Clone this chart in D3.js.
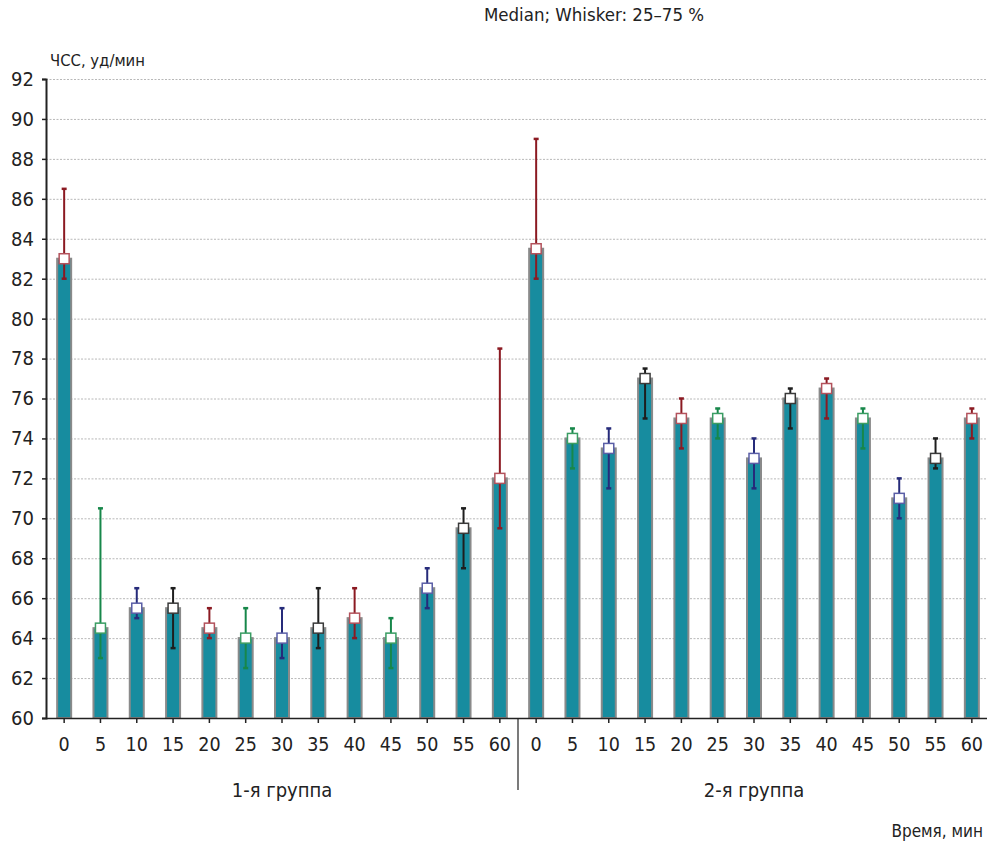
<!DOCTYPE html>
<html>
<head>
<meta charset="utf-8">
<script src="https://cdn.jsdelivr.net/npm/d3@7"></script>
<style>
  html, body { margin: 0; padding: 0; background: #fff; }
  svg { display: block; }
  text { font-family: "DejaVu Sans Condensed", "Liberation Sans Narrow", sans-serif; fill: #222; }
</style>
</head>
<body>
<svg id="chart" width="987" height="841"></svg>
<script>

// --- data ---
const times = [0, 5, 10, 15, 20, 25, 30, 35, 40, 45, 50, 55, 60];
const groups = ["1-я группа", "2-я группа"];

// group 1: median, 25 %, 75 %
const median1 = [83, 64.5, 65.5, 65.5, 64.5, 64, 64, 64.5, 65, 64, 66.5, 69.5, 72];
const low1    = [82, 63, 65, 63.5, 64, 62.5, 63, 63.5, 64, 62.5, 65.5, 67.5, 69.5];
const high1   = [86.5, 70.5, 66.5, 66.5, 65.5, 65.5, 65.5, 66.5, 66.5, 65, 67.5, 70.5, 78.5];

// group 2: median, 25 %, 75 %
const median2 = [83.5, 74, 73.5, 77, 75, 75, 73, 76, 76.5, 75, 71, 73, 75];
const low2    = [82, 72.5, 71.5, 75, 73.5, 74, 71.5, 74.5, 75, 73.5, 70, 72.5, 74];
const high2   = [89, 74.5, 74.5, 77.5, 76, 75.5, 74, 76.5, 77, 75.5, 72, 74, 75.5];

const yTicks = [60, 62, 64, 66, 68, 70, 72, 74, 76, 78, 80, 82, 84, 86, 88, 90, 92];

const title = "Median; Whisker: 25–75 %";
const yTitle = "ЧСС, уд/мин";
const xTitle = "Время, мин";

// colours cycle inside each group
const lineColors = ["#8b1a22", "#17874a", "#262b7a", "#1e1e1e"];
const boxColors  = ["#b3525c", "#3a9d63", "#5a5ea6", "#3a3a3a"];

// --- build rows ---
let rows = [];
[[median1, low1, high1], [median2, low2, high2]].forEach((g, gi) => {
  times.forEach((t, i) => {
    rows.push({
      key: gi + "-" + t, group: gi, idx: i, time: t,
      med: g[0][i], lo: g[1][i], hi: g[2][i]
    });
  });
});

// --- layout ---
const W = 987;
const mLeft = 46, mRight = 990, mTop = 79, mBottom = 718;

let svg = d3.select("#chart");

let x = d3.scaleBand()
  .domain(rows.map(d => d.key))
  .range([mLeft, mRight])
  .paddingInner(0)
  .paddingOuter(0);

let y = d3.scaleLinear()
  .domain([60, 92])
  .range([mBottom, mTop]);

let cx = d => x(d.key) + x.bandwidth() / 2;

// grid lines
svg.append("g")
  .selectAll("line")
  .data(yTicks.filter(v => v > 60))
  .enter()
  .append("line")
  .attr("x1", mLeft)
  .attr("x2", W)
  .attr("y1", d => y(d) + 0.5)
  .attr("y2", d => y(d) + 0.5)
  .attr("stroke", "#b8b8b8")
  .attr("stroke-width", 1)
  .attr("stroke-dasharray", "2,1.5");

// bars
let bw = 14;
svg.append("g")
  .selectAll("rect")
  .data(rows)
  .enter()
  .append("rect")
  .attr("x", d => cx(d) - bw / 2)
  .attr("y", d => y(d.med))
  .attr("width", bw)
  .attr("height", d => y(60) - y(d.med))
  .attr("fill", "#178c9f")
  .attr("stroke", "#8a8a8a")
  .attr("stroke-width", 2);

// whiskers
let wg = svg.append("g");
wg.selectAll("line.wh")
  .data(rows)
  .enter()
  .append("line")
  .attr("class", "wh")
  .attr("x1", cx).attr("x2", cx)
  .attr("y1", d => y(d.lo))
  .attr("y2", d => y(d.hi))
  .attr("stroke", d => lineColors[d.idx % 4])
  .attr("stroke-width", 2);

["lo", "hi"].forEach(k => {
  wg.selectAll("line.cap-" + k)
    .data(rows)
    .enter()
    .append("line")
    .attr("class", "cap-" + k)
    .attr("x1", d => cx(d) - 2.5)
    .attr("x2", d => cx(d) + 2.5)
    .attr("y1", d => y(d[k]))
    .attr("y2", d => y(d[k]))
    .attr("stroke", d => lineColors[d.idx % 4])
    .attr("stroke-width", 2.5);
});

// median markers
let ms = 10;
svg.append("g")
  .selectAll("rect")
  .data(rows)
  .enter()
  .append("rect")
  .attr("x", d => cx(d) - ms / 2)
  .attr("y", d => y(d.med) - ms / 2)
  .attr("width", ms)
  .attr("height", ms)
  .attr("fill", "#fff")
  .attr("stroke", d => boxColors[d.idx % 4])
  .attr("stroke-width", 1.5);

// y axis
let yAxis = d3.axisLeft(y)
  .tickValues(yTicks)
  .tickSize(4)
  .tickPadding(8)
  .tickFormat(d3.format("d"));

let ya = svg.append("g")
  .attr("transform", `translate(${mLeft},0)`)
  .call(yAxis);
ya.select(".domain").attr("stroke", "#222").attr("stroke-width", 2);
ya.selectAll(".tick line").attr("stroke", "#222").attr("stroke-width", 1.5);
ya.selectAll(".tick text")
  .attr("font-size", "20px")
  .attr("fill", "#222")
  .style("font-family", "\"DejaVu Sans Condensed\", sans-serif");

// x axis
let xAxis = d3.axisBottom(x)
  .tickSize(5)
  .tickPadding(14)
  .tickFormat(k => rows.find(r => r.key === k).time);

let xa = svg.append("g")
  .attr("transform", `translate(0,${mBottom})`)
  .call(xAxis);
xa.select(".domain")
  .attr("d", `M${mLeft},0.5H${W}`)
  .attr("stroke", "#222")
  .attr("stroke-width", 1.5);
xa.selectAll(".tick line").attr("stroke", "#222").attr("stroke-width", 1.5);
xa.selectAll(".tick text")
  .attr("font-size", "19.5px")
  .attr("fill", "#222")
  .style("font-family", "\"DejaVu Sans Condensed\", sans-serif");

// group separator and labels
let sepX = x("1-0");
svg.append("line")
  .attr("x1", sepX).attr("x2", sepX)
  .attr("y1", mBottom).attr("y2", 790)
  .attr("stroke", "#222")
  .attr("stroke-width", 1.2);

groups.forEach((g, gi) => {
  let first = x(gi + "-" + times[0]);
  let last = x(gi + "-" + times[times.length - 1]) + x.bandwidth();
  svg.append("text")
    .attr("x", (first + last) / 2)
    .attr("y", 797)
    .attr("text-anchor", "middle")
    .attr("font-size", "20px")
    .text(g);
});

// titles
svg.append("text")
  .attr("x", 594)
  .attr("y", 21)
  .attr("text-anchor", "middle")
  .attr("font-size", "18.5px")
  .text(title);

svg.append("text")
  .attr("x", 50)
  .attr("y", 66)
  .attr("font-size", "16.5px")
  .text(yTitle);

svg.append("text")
  .attr("x", 983)
  .attr("y", 837)
  .attr("text-anchor", "end")
  .attr("font-size", "17px")
  .text(xTitle);

</script>
</body>
</html>
